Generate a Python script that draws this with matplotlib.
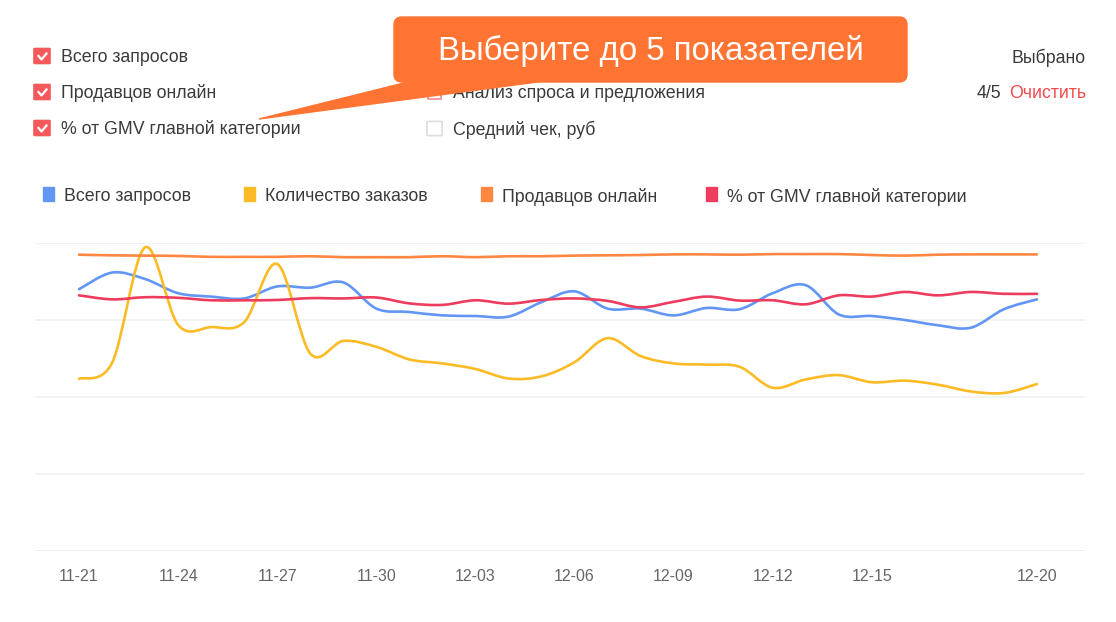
import numpy as np
import matplotlib
matplotlib.use('Agg')
import matplotlib.pyplot as plt
from matplotlib.path import Path
from matplotlib.patches import PathPatch, FancyBboxPatch, Rectangle, Polygon

plt.rcParams['font.family'] = ['Liberation Sans', 'DejaVu Sans']

# data: one point per day, 11-21 .. 12-20
days = ['11-21', '11-22', '11-23', '11-24', '11-25', '11-26', '11-27', '11-28', '11-29', '11-30',
        '12-01', '12-02', '12-03', '12-04', '12-05', '12-06', '12-07', '12-08', '12-09', '12-10',
        '12-11', '12-12', '12-13', '12-14', '12-15', '12-16', '12-17', '12-18', '12-19', '12-20']
tick_labels = ['11-21', '11-24', '11-27', '11-30', '12-03', '12-06', '12-09', '12-12', '12-15', '12-20']

series_names = ['Всего запросов', 'Количество заказов', 'Продавцов онлайн', '% от GMV главной категории']
total_queries = [85.0, 90.4, 88.3, 83.7, 82.6, 82.0, 85.9, 85.5, 87.2, 78.7,
                 77.6, 76.5, 76.3, 76.1, 80.8, 84.3, 78.7, 78.7, 76.5, 78.9,
                 78.5, 83.7, 86.3, 76.8, 76.3, 75.0, 73.3, 72.5, 78.5, 81.7]
orders = [55.9, 61.1, 98.6, 73.4, 72.7, 74.3, 93.2, 64.1, 68.2, 66.3,
          62.2, 60.9, 59.1, 56.0, 56.7, 61.3, 69.1, 63.3, 60.9, 60.5,
          59.8, 53.0, 55.7, 57.1, 54.8, 55.3, 54.0, 51.8, 51.3, 54.2]
sellers = [96.2, 96.0, 95.9, 95.8, 95.5, 95.5, 95.5, 95.7, 95.4, 95.4,
           95.4, 95.7, 95.4, 95.7, 95.7, 95.9, 96.0, 96.1, 96.3, 96.3,
           96.2, 96.4, 96.4, 96.4, 96.1, 95.9, 96.2, 96.3, 96.3, 96.3]
gmv_share = [83.0, 81.7, 82.4, 82.2, 81.4, 81.4, 81.5, 82.1, 82.0, 82.3,
             80.4, 79.9, 81.4, 80.3, 81.5, 82.0, 81.2, 79.1, 80.9, 82.6,
             81.3, 81.4, 80.1, 83.0, 82.6, 84.1, 83.0, 84.1, 83.5, 83.5]

colors = ['#6296f5', '#fcbb24', '#ff8741', '#ee3c5f']

W, H = 1116, 622
fig = plt.figure(figsize=(W / 100, H / 100), dpi=100)


def fx(px):
    return px / W


def fy(py):
    return 1 - py / H


def smooth_path(xs, ys, k=0.5):
    # cardinal spline as cubic bezier segments
    xs = np.asarray(xs, float)
    ys = np.asarray(ys, float)
    n = len(xs)
    verts = [(xs[0], ys[0])]
    codes = [Path.MOVETO]
    for i in range(n - 1):
        p0 = i - 1 if i > 0 else i
        p3 = i + 2 if i + 2 < n else i + 1
        c1 = (xs[i] + (xs[i + 1] - xs[p0]) * k / 3, ys[i] + (ys[i + 1] - ys[p0]) * k / 3)
        c2 = (xs[i + 1] - (xs[p3] - xs[i]) * k / 3, ys[i + 1] - (ys[p3] - ys[i]) * k / 3)
        verts += [c1, c2, (xs[i + 1], ys[i + 1])]
        codes += [Path.CURVE4] * 3
    return Path(verts, codes)


# plot area
ax = fig.add_axes([fx(35), fy(551), fx(1085) - fx(35), fy(243) - fy(551)])
x = np.arange(len(days))
ax.set_xlim(-44 / 33, len(days) - 1 + 48 / 33)
ax.set_ylim(0, 100)
for v in [25, 50, 75, 100]:
    ax.axhline(v, color='#f0f0f4', lw=1.2, zorder=0)
ax.axhline(0, color='#eceef3', lw=1.4, zorder=0)
for s in ax.spines.values():
    s.set_visible(False)
ax.set_yticks([])
ax.set_xticks([days.index(t) for t in tick_labels])
ax.set_xticklabels(tick_labels, fontsize=11.5, color='#666666')
ax.tick_params(axis='x', length=0, pad=13)

for ys, c in zip([total_queries, orders, sellers, gmv_share], colors):
    ax.add_patch(PathPatch(smooth_path(x, ys), fill=False, edgecolor=c, lw=1.9,
                           capstyle='round', joinstyle='round', clip_on=False))

fs = 12.8
txt = '#3a3a3a'
# legend
leg_x = [43, 244, 481, 706]
for lx, name, c in zip(leg_x, series_names, colors):
    fig.patches.append(Rectangle((fx(lx), fy(201)), fx(11), 14 / H, color=c,
                                 transform=fig.transFigure))
    fig.text(fx(lx + 21), fy(196.5), name, fontsize=fs, color=txt, va='center')

# selector checkboxes
checked = [('Всего запросов', 56), ('Продавцов онлайн', 92), ('% от GMV главной категории', 128)]
for label, cy in checked:
    fig.patches.append(FancyBboxPatch((fx(35), fy(cy + 7)), fx(14), 14 / H,
                                      boxstyle='round,pad=0.001', color='#f5595b',
                                      transform=fig.transFigure))
    fig.lines.append(plt.Line2D([fx(38.5), fx(41.5), fx(46.5)], [fy(cy), fy(cy + 3.5), fy(cy - 2.5)],
                                color='white', lw=1.6, transform=fig.transFigure))
    fig.text(fx(61), fy(cy + 1.5), label, fontsize=fs, color=txt, va='center')

fig.patches.append(Rectangle((fx(428), fy(99)), fx(13), 13 / H, fill=False,
                             edgecolor='#f08a8c', lw=1.2, transform=fig.transFigure))
fig.text(fx(453), fy(93.5), 'Анализ спроса и предложения', fontsize=fs, color=txt, va='center')
fig.patches.append(FancyBboxPatch((fx(428), fy(135)), fx(13), 13 / H,
                                  boxstyle='round,pad=0.001', fill=False,
                                  edgecolor='#dddddd', lw=1.2, transform=fig.transFigure))
fig.text(fx(453), fy(129.5), 'Средний чек, руб', fontsize=fs, color=txt, va='center')

fig.text(fx(1086), fy(57.5), 'Выбрано', fontsize=fs, color=txt, va='center', ha='right')
fig.text(fx(1086), fy(93.5), 'Очистить', fontsize=fs, color='#f4494c', va='center', ha='right')
fig.text(fx(1001), fy(93.5), '4/5', fontsize=fs, color=txt, va='center', ha='right')

# callout
orange = '#ff7433'
fig.patches.append(Polygon([(fx(259), fy(119)), (fx(412), fy(81)), (fx(545), fy(81))],
                           closed=True, color=orange, transform=fig.transFigure, zorder=5))
fig.patches.append(FancyBboxPatch((fx(394), fy(82)), fx(513), 65 / H,
                                  boxstyle='round,pad=0,rounding_size=0.007',
                                  color=orange, transform=fig.transFigure, zorder=5,
                                  mutation_aspect=W / H))
fig.text(fx(651), fy(51), 'Выберите до 5 показателей', fontsize=23.8, color='white',
         va='center', ha='center', zorder=6)

fig.savefig('out.png', dpi=100)
